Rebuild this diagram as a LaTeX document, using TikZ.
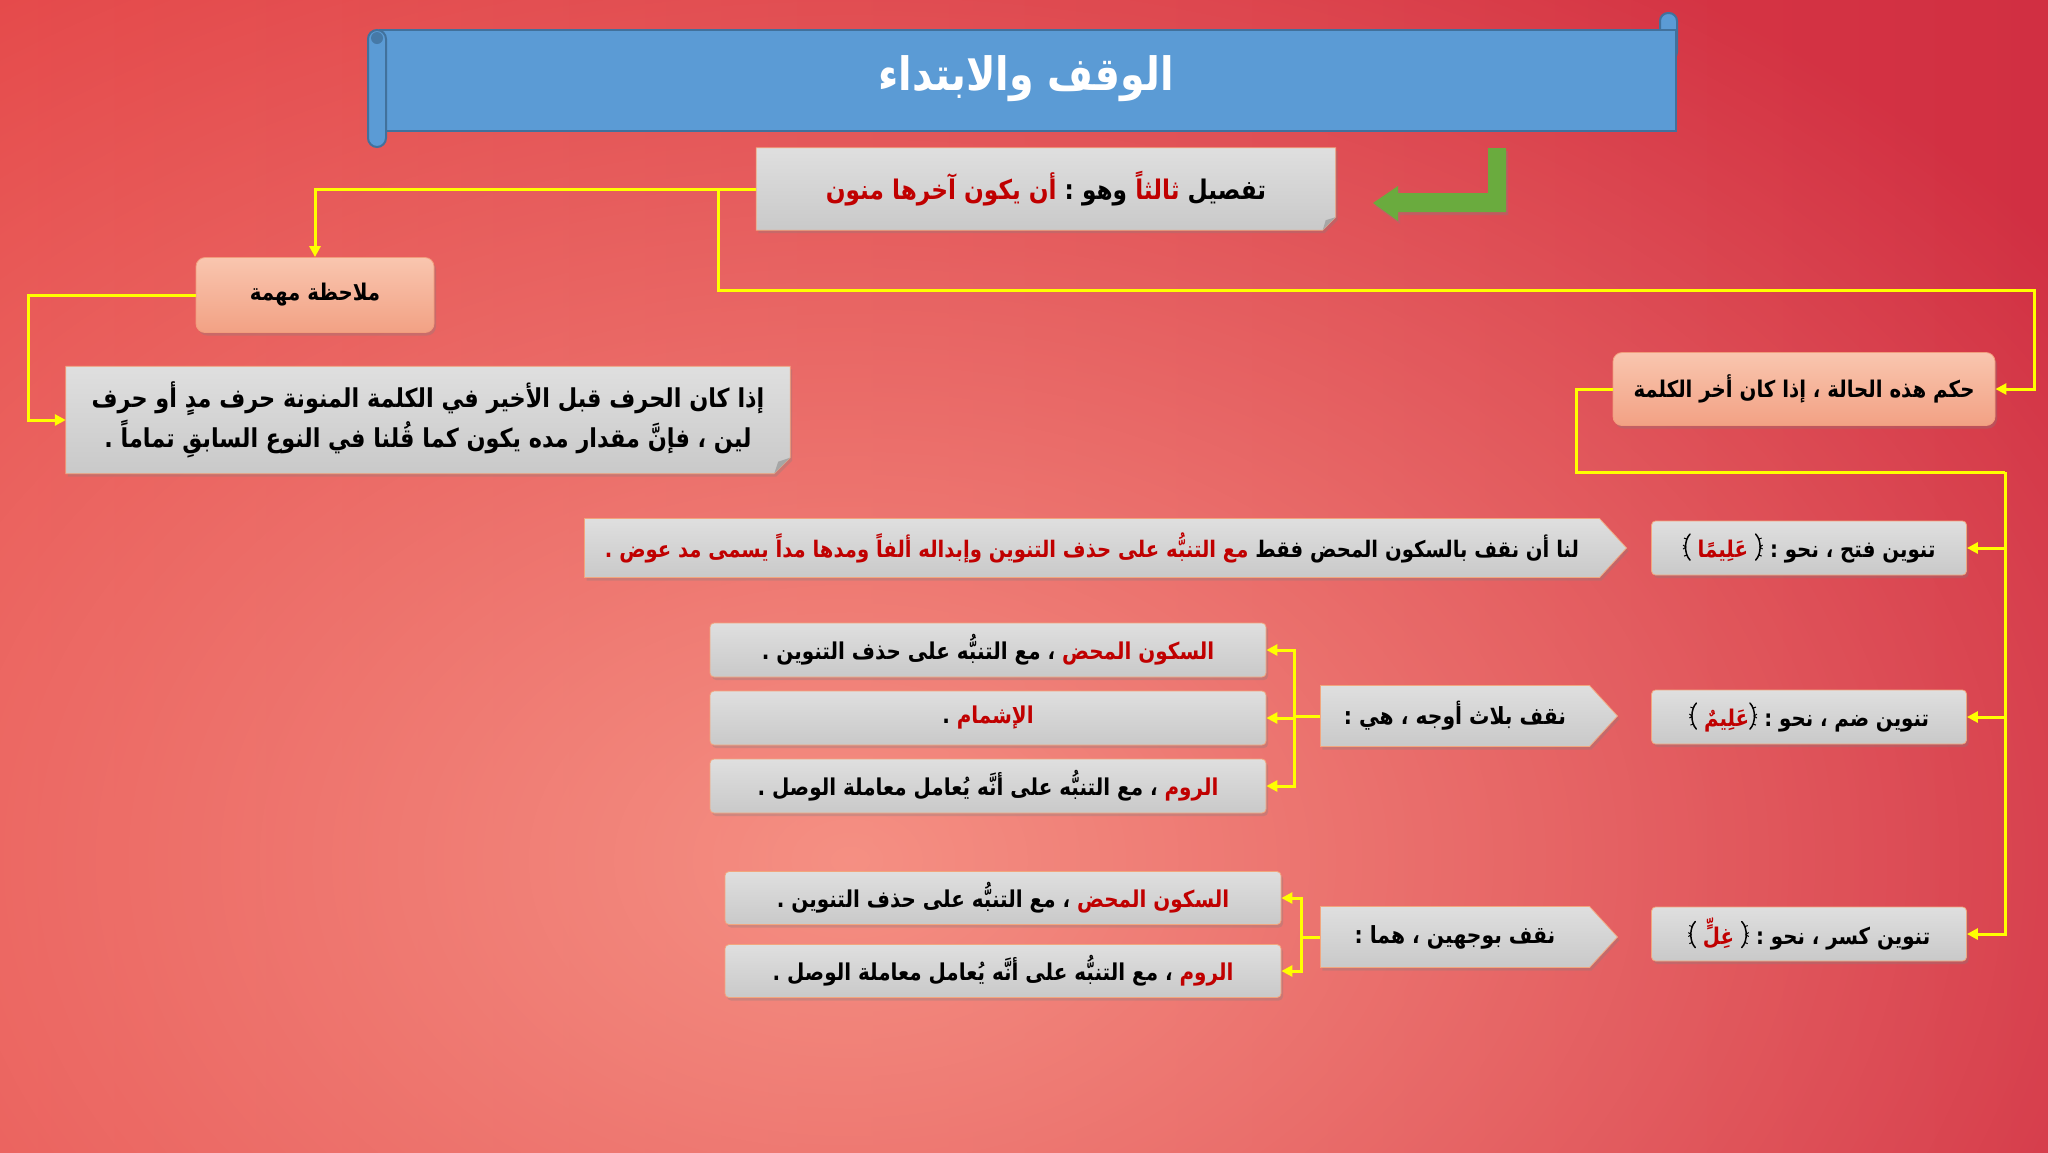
\documentclass[tikz,border=0pt]{standalone}
\usepackage{fontspec}
\usetikzlibrary{arrows.meta,shapes.symbols,shadows,fadings}
\newfontfamily\arabicfont[Script=Arabic,FakeStretch=0.86]{DejaVu Sans}
\TeXXeTstate=1
\definecolor{arred}{HTML}{C00000}
\definecolor{ylw}{HTML}{FFFF00}
\definecolor{bgL}{HTML}{E54A4B}
\definecolor{bgM}{HTML}{EA5853}
\definecolor{bgR}{HTML}{D12F42}
\definecolor{glowc}{HTML}{F8998A}
\definecolor{gtop}{HTML}{DFDFDF}
\definecolor{gbot}{HTML}{C9C9C9}
\definecolor{gbord}{HTML}{F2A67E}
\definecolor{stop}{HTML}{F9C6AF}
\definecolor{sbot}{HTML}{F2A184}
\definecolor{sbord}{HTML}{F29C7C}
\definecolor{banner}{HTML}{5B9BD5}
\definecolor{bannerd}{HTML}{41719C}
\definecolor{grn}{HTML}{6AAB3E}
\definecolor{foldc}{HTML}{A6A6A6}
\newcommand\AR[1]{\beginR #1\endR}
\newcommand\RD[1]{{\color{arred}\beginR #1\endR}}
% ornate brackets (no installed family has U+FD3E/FD3F): drawn as small shapes
\newcommand\OrnL{\tikz[x=1pt,y=1pt,baseline=-6pt]{\draw[black,line width=1.5pt,line cap=round] (3,17) .. controls (-3,11) and (-3,-3) .. (3,-9); \draw[black,line width=1pt] (-1,4) -- (-4,6) (-1,4) -- (-4,2) (0,12) -- (-3,13) (0,-4) -- (-3,-5);}}
\newcommand\OrnR{\tikz[x=1pt,y=1pt,baseline=-6pt]{\draw[black,line width=1.5pt,line cap=round] (-3,17) .. controls (3,11) and (3,-3) .. (-3,-9); \draw[black,line width=1pt] (1,4) -- (4,6) (1,4) -- (4,2) (0,12) -- (3,13) (0,-4) -- (3,-5);}}
\pgfdeclarelayer{back}
\pgfdeclarelayer{bg}
\pgfsetlayers{back,bg,main}
\tikzfading[name=glow, inner color=transparent!10, outer color=transparent!100]
\begin{document}
\begin{tikzpicture}[x=1pt,y=-1pt,
  font=\arabicfont\bfseries,
  fs/.style={font=\arabicfont\bfseries\fontsize{#1}{#1}\selectfont},
  shd/.style={drop shadow={opacity=0.3,shadow xshift=2pt,shadow yshift=-3pt}},
  yl/.style={draw=ylw, line width=3pt, -{Triangle[length=11pt,width=11pt]}},
  ylline/.style={draw=ylw, line width=3pt},
  plain/.style={rectangle, inner sep=0pt},
  graybox/.style={rectangle, rounded corners=4pt, top color=gtop, bottom color=gbot, draw=gbord, line width=0.8pt, inner sep=0pt, shd},
  salmon/.style={rectangle, rounded corners=9pt, top color=stop, bottom color=sbot, draw=sbord, line width=0.8pt, inner sep=0pt, shd},
  pent/.style={signal, signal to=east, signal pointer angle=95, top color=gtop, bottom color=gbot, draw=gbord, line width=0.8pt, inner sep=0pt, shd},
  foldbox/.style={top color=gtop, bottom color=gbot, draw=gbord, line width=0.8pt, shd}
]
\useasboundingbox (0,0) rectangle (2048,1152);
\begin{pgfonlayer}{back}
\begin{scope}
\clip (0,0) rectangle (2048,1152);
\shade[left color=bgL, middle color=bgM, right color=bgR] (0,0) rectangle (2048,1152);
\fill[glowc, path fading=glow] (850,860) ellipse [x radius=1500, y radius=1050];
\end{scope}
\end{pgfonlayer}

% title banner
\fill[banner, draw=bannerd, line width=2pt, rounded corners=8pt] (1660,13) rectangle (1677,60);
\fill[banner, draw=bannerd, line width=2pt] (380,30) rectangle (1676,131);
\fill[banner, draw=bannerd, line width=2pt, rounded corners=9pt] (368,30) rectangle (386,147);
\fill[bannerd!80!banner] (377,38) circle (6);
\node[plain, text=white, fs=46] (title) at (1026,79) {\AR{الوقف والابتداء}};

% green arrow
\fill[grn, shd] (1488,148) -- (1506,148) -- (1506,212) -- (1398,212) -- (1398,221) -- (1373,203) -- (1398,186) -- (1398,193) -- (1488,193) -- cycle;

% subtitle
\node[plain, minimum width=579, minimum height=82, fs=27] (sub) at (1046,189) {\RD{أن يكون آخرها منون}\ \AR{وهو :}\ \RD{ثالثاً}\ \AR{تفصيل}};
% note
\node[plain, minimum width=724, minimum height=107, align=center, font=\arabicfont\bfseries\fontsize{26}{40}\selectfont] (note) at (428,420) {\AR{إذا كان الحرف قبل الأخير في الكلمة المنونة حرف مدٍ أو حرف}\\\AR{لين ، فإنَّ مقدار مده يكون كما قُلنا في النوع السابقِ تماماً .}};
\begin{pgfonlayer}{bg}
\path[foldbox] (sub.north west) -- (sub.north east) -- ([yshift=13pt]sub.south east) -- ([xshift=-13pt]sub.south east) -- (sub.south west) -- cycle;
\fill[foldc] ([yshift=13pt]sub.south east) -- ([xshift=-13pt]sub.south east) -- ([xshift=-10pt,yshift=10pt]sub.south east) -- cycle;
\path[foldbox] (note.north west) -- (note.north east) -- ([yshift=16pt]note.south east) -- ([xshift=-16pt]note.south east) -- (note.south west) -- cycle;
\fill[foldc] ([yshift=16pt]note.south east) -- ([xshift=-16pt]note.south east) -- ([xshift=-12pt,yshift=12pt]note.south east) -- cycle;
\end{pgfonlayer}

\node[salmon, minimum width=238, minimum height=75, fs=23] (mul) at (315,295) {\AR{ملاحظة مهمة}};
\node[salmon, minimum width=382, minimum height=73, fs=23] (hukm) at (1804,389) {\AR{حكم هذه الحالة ، إذا كان أخر الكلمة}};

\node[graybox, minimum width=315, minimum height=54, fs=23] (fath) at (1809,548) {\OrnL\ \RD{عَلِيمًا}\ \OrnR\ \AR{تنوين فتح ، نحو :}};
\node[graybox, minimum width=315, minimum height=54, fs=23] (damm) at (1809,717) {\OrnL\ \RD{عَلِيمٌ}\OrnR\ \AR{تنوين ضم ، نحو :}};
\node[graybox, minimum width=315, minimum height=54, fs=23] (kasr) at (1809,934) {\OrnL\ \RD{غِلٍّ}\ \OrnR\ \AR{تنوين كسر ، نحو :}};

\node[pent, minimum width=1042, minimum height=59, fs=22.8] (p1) at (1092,548) {\RD{مع التنبُّه على حذف التنوين وإبداله ألفاً ومدها مداً يسمى مد عوض .}\ \AR{لنا أن نقف بالسكون المحض فقط}};
\node[pent, minimum width=297, minimum height=61, fs=23.6] (p2) at (1455,716) {\AR{نقف بلاث أوجه ، هي :}};
\node[pent, minimum width=297, minimum height=61, fs=23.6] (p3) at (1455,937) {\AR{نقف بوجهين ، هما :}};

\node[graybox, minimum width=556, minimum height=54, fs=23.2] (m1) at (988,650) {\AR{، مع التنبُّه على حذف التنوين .}\ \RD{السكون المحض}};
\node[graybox, minimum width=556, minimum height=54, fs=23.2] (m2) at (988,718) {\AR{.}\ \RD{الإشمام}};
\node[graybox, minimum width=556, minimum height=54, fs=23.2] (m3) at (988,786) {\AR{، مع التنبُّه على أنَّه يُعامل معاملة الوصل .}\ \RD{الروم}};

\node[graybox, minimum width=556, minimum height=53, fs=23.2] (b1) at (1003,898) {\AR{، مع التنبُّه على حذف التنوين .}\ \RD{السكون المحض}};
\node[graybox, minimum width=556, minimum height=53, fs=23.2] (b2) at (1003,971) {\AR{، مع التنبُّه على أنَّه يُعامل معاملة الوصل .}\ \RD{الروم}};

% connectors
\coordinate (j1) at (718,189);
\coordinate (c1) at (2034,290);
\coordinate (c2) at (28,295);
\coordinate (c3) at (1576,472);
\coordinate (c4) at (2005,472);
\coordinate (c5) at (1294,716);
\coordinate (c6) at (1301,937);
\draw[yl] (sub.west) -| (mul.north);
\draw[yl] (j1) |- (c1) |- (hukm.east);
\draw[yl] (mul.west) -- (c2) |- (note.west);
\draw[ylline] (hukm.west) -| (c3) -- (c4);
\draw[yl] (c4) |- (fath.east);
\draw[yl] (c4) |- (damm.east);
\draw[yl] (c4) |- (kasr.east);
\draw[ylline] (p2.west) -- (c5);
\draw[yl] (c5) |- (m1.east);
\draw[yl] (c5) |- (m2.east);
\draw[yl] (c5) |- (m3.east);
\draw[ylline] (p3.west) -- (c6);
\draw[yl] (c6) |- (b1.east);
\draw[yl] (c6) |- (b2.east);
\end{tikzpicture}
\end{document}
